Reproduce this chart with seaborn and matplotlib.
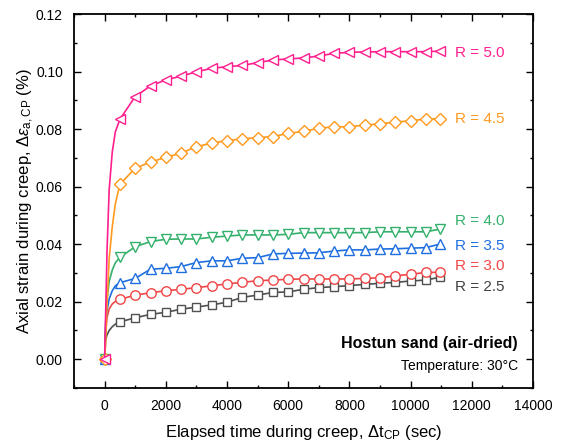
import numpy as np
import pandas as pd
import matplotlib
matplotlib.use("Agg")
import matplotlib.pyplot as plt
import seaborn as sns
from matplotlib.ticker import MultipleLocator

# ---------------- data ----------------
t_marker = [0, 500, 1000, 1500, 2000, 2500, 3000, 3500, 4000, 4500, 5000, 5500,
            6000, 6500, 7000, 7500, 8000, 8500, 9000, 9500, 10000, 10500, 10950]
t_early = [0, 30, 80, 150, 250, 350]

r50 = [0, 0.0834, 0.0913, 0.0950, 0.0971, 0.0984, 0.0999, 0.1011, 0.1017, 0.1021, 0.1031, 0.1040,
       0.1044, 0.1047, 0.1054, 0.1063, 0.1067, 0.1068, 0.1069, 0.1069, 0.1069, 0.1069, 0.1071]
r45 = [0, 0.0608, 0.0664, 0.0685, 0.0702, 0.0716, 0.0739, 0.0751, 0.0760, 0.0766, 0.0770, 0.0774,
       0.0785, 0.0792, 0.0803, 0.0808, 0.0808, 0.0814, 0.0818, 0.0824, 0.0829, 0.0835, 0.0836]
r40 = [0, 0.0354, 0.0391, 0.0409, 0.0417, 0.0418, 0.0418, 0.0424, 0.0428, 0.0432, 0.0432, 0.0432,
       0.0434, 0.0440, 0.0440, 0.0440, 0.0440, 0.0440, 0.0443, 0.0443, 0.0443, 0.0443, 0.0452]
r35 = [0, 0.0266, 0.0281, 0.0313, 0.0316, 0.0322, 0.0336, 0.0342, 0.0342, 0.0351, 0.0353, 0.0366,
       0.0368, 0.0369, 0.0370, 0.0376, 0.0380, 0.0380, 0.0383, 0.0384, 0.0386, 0.0388, 0.0400]
r30 = [0, 0.0208, 0.0223, 0.0231, 0.0238, 0.0243, 0.0249, 0.0255, 0.0262, 0.0267, 0.0273, 0.0275,
       0.0278, 0.0279, 0.0279, 0.0279, 0.0279, 0.0281, 0.0283, 0.0290, 0.0295, 0.0302, 0.0302]
r25 = [0, 0.0130, 0.0144, 0.0156, 0.0163, 0.0174, 0.0181, 0.0189, 0.0198, 0.0215, 0.0223, 0.0232,
       0.0234, 0.0243, 0.0249, 0.0252, 0.0256, 0.0260, 0.0264, 0.0267, 0.0272, 0.0275, 0.0285]

# early part of the fitted curves (t < 500)
e50 = [0, 0.014, 0.038, 0.059, 0.072, 0.079]
e45 = [0, 0.005, 0.019, 0.035, 0.046, 0.054]
e40 = [0, 0.012, 0.021, 0.027, 0.031, 0.0335]
e35 = [0, 0.010, 0.017, 0.021, 0.0238, 0.0255]
e30 = [0, 0.009, 0.0145, 0.0175, 0.0192, 0.0201]
e25 = [0, 0.0065, 0.0085, 0.0100, 0.0113, 0.0122]

labels = ["R = 5.0", "R = 4.5", "R = 4.0", "R = 3.5", "R = 3.0", "R = 2.5"]
label_y = [0.1065, 0.0834, 0.0482, 0.0394, 0.0324, 0.0252]

series = [r50, r45, r40, r35, r30, r25]
earlies = [e50, e45, e40, e35, e30, e25]
colors = ["#FF1F8E", "#FF9A1F", "#33B06B", "#1F6FE0", "#F04646", "#505050"]
text_colors = ["#FF1F8E", "#FF9A1F", "#33B06B", "#1F6FE0", "#F04646", "#404040"]
markers = ["<", "D", "v", "^", "o", "s"]
msizes = [7.5, 6.0, 7.5, 7.5, 6.8, 6.0]

# ---------------- style ----------------
sns.set_theme(style="ticks")
plt.rcParams["font.family"] = ["Liberation Sans", "DejaVu Sans"]
plt.rcParams["mathtext.fontset"] = "custom"
plt.rcParams["mathtext.rm"] = "Liberation Sans"
plt.rcParams["mathtext.it"] = "Liberation Sans:italic"
plt.rcParams["mathtext.bf"] = "Liberation Sans:bold"

fig = plt.figure(figsize=(5.61, 4.45), dpi=100)
ax = fig.add_axes([74 / 561, 1 - 388 / 445, (533 - 74) / 561, (388 - 14) / 445])

# draw lowest series first so R = 5.0 ends on top (as in the reference)
for vals, early, c, m, ms in list(zip(series, earlies, colors, markers, msizes))[::-1]:
    t_line = t_early + t_marker[1:]
    v_line = early + vals[1:]
    sns.lineplot(x=t_line, y=v_line, color=c, lw=1.2, ax=ax, sort=False)
    sns.lineplot(x=t_marker, y=vals, color=c, ls="none", marker=m, markersize=ms,
                 markerfacecolor="white", markeredgecolor=c, markeredgewidth=1.0,
                 ax=ax, sort=False)

for lab, yv, tc in zip(labels, label_y, text_colors):
    ax.text(11450, yv, lab, color=tc, fontsize=11, ha="left", va="center")

ax.text(0.967, 0.120, "Hostun sand (air-dried)", transform=ax.transAxes,
        fontsize=11.5, fontweight="bold", ha="right", va="center", color="black")
ax.text(0.967, 0.060, "Temperature: 30\u00b0C", transform=ax.transAxes,
        fontsize=10, ha="right", va="center", color="black")

ax.set_xlim(-1000, 14000)
ax.set_ylim(-0.01, 0.12)
ax.xaxis.set_major_locator(MultipleLocator(2000))
ax.xaxis.set_minor_locator(MultipleLocator(1000))
ax.yaxis.set_major_locator(MultipleLocator(0.02))
ax.yaxis.set_minor_locator(MultipleLocator(0.01))
ax.yaxis.set_major_formatter(matplotlib.ticker.FormatStrFormatter("%.2f"))
ax.tick_params(which="both", direction="in", top=True, right=True, color="black",
               labelsize=10, labelcolor="black")
ax.tick_params(which="major", length=5, width=1, pad=8)
ax.tick_params(which="minor", length=2.5, width=1)
for s in ax.spines.values():
    s.set_color("black")
    s.set_linewidth(1.3)

ax.set_xlabel(r"Elapsed time during creep, $\Delta\mathrm{t}_{\mathrm{CP}}$ (sec)",
              fontsize=12, color="black", labelpad=7)
ax.set_ylabel(r"Axial strain during creep, $\Delta\varepsilon_{\mathrm{a,CP}}$ (%)",
              fontsize=12, color="black", labelpad=0)

fig.savefig("out.png", dpi=100, facecolor="white")
